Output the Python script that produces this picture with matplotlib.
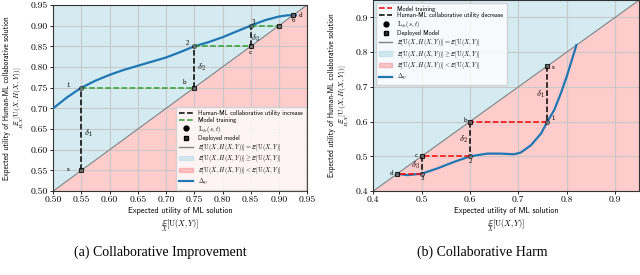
import matplotlib
matplotlib.use("Agg")
import matplotlib.pyplot as plt
from matplotlib.lines import Line2D
from matplotlib.patches import Patch

plt.rcParams['font.family'] = 'cmss10'
plt.rcParams['mathtext.fontset'] = 'cm'
plt.rcParams['axes.unicode_minus'] = False
plt.rcParams['axes.formatter.use_mathtext'] = True

# (a) collaborative improvement
xa = [0.50, 0.525, 0.55, 0.575, 0.60, 0.625, 0.65, 0.675, 0.70, 0.725, 0.75,
      0.775, 0.80, 0.825, 0.85, 0.875, 0.90, 0.915, 0.93]
ya = [0.70, 0.727, 0.75, 0.767, 0.781, 0.793, 0.803, 0.813, 0.823, 0.836, 0.85,
      0.86, 0.872, 0.886, 0.90, 0.913, 0.922, 0.925, 0.925]
deploy_a = [0.55, 0.75, 0.85, 0.90, 0.925]
collab_a = [0.75, 0.85, 0.90]
deploy_a_names = ['s', 'b', 'c', '', 'd']
collab_a_names = ['1', '2', '3']

# (b) collaborative harm
xb = [0.45, 0.47, 0.50, 0.532, 0.567, 0.60, 0.636, 0.663, 0.691, 0.705, 0.726,
      0.747, 0.76, 0.774, 0.788, 0.80, 0.82]
yb = [0.45, 0.446, 0.45, 0.465, 0.484, 0.50, 0.508, 0.508, 0.506, 0.511, 0.532,
      0.566, 0.60, 0.633, 0.682, 0.73, 0.82]
deploy_b = [0.76, 0.60, 0.50, 0.45]
collab_b = [0.60, 0.50, 0.45]
deploy_b_names = ['s', 'b', 'c', 'd']
collab_b_names = ['1', '2', '3']

blue_fill = (0.68, 0.85, 0.90, 0.5)
red_fill = (1.0, 0.0, 0.0, 0.2)
eq_lbl = r'$\mathbb{E}[\mathrm{U}(X,H(X,Y))] = \mathbb{E}[\mathrm{U}(X,Y)]$'
ge_lbl = r'$\mathbb{E}[\mathrm{U}(X,H(X,Y))] \geq \mathbb{E}[\mathrm{U}(X,Y)]$'
lt_lbl = r'$\mathbb{E}[\mathrm{U}(X,H(X,Y))] < \mathbb{E}[\mathrm{U}(X,Y)]$'
L_lbl = r'$\mathrm{L}_{\delta_U}(s,t)$'


def base(ax, lo, hi, ticks, fmt):
    ax.fill_between([lo, hi], [lo, hi], [hi, hi], color=blue_fill, lw=0)
    ax.fill_between([lo, hi], [lo, lo], [lo, hi], color=red_fill, lw=0)
    ax.plot([lo, hi], [lo, hi], color='gray', lw=0.8)
    ax.set_xlim(lo, hi)
    ax.set_ylim(lo, hi)
    ax.set_xticks(ticks)
    ax.set_yticks(ticks)
    ax.set_xticklabels([fmt % t for t in ticks], family='cmr10', fontsize=7)
    ax.set_yticklabels([fmt % t for t in ticks], family='cmr10', fontsize=7)
    ax.grid(True, color='#c8c8c8', lw=0.8)
    ax.tick_params(length=2.5, width=0.6, pad=1)
    for s in ax.spines.values():
        s.set_color('#333333')
        s.set_linewidth(0.8)
    ax.set_xlabel('Expected utility of ML solution\n' +
                  r'$\underset{X}{\mathbb{E}}[\mathrm{U}(X,Y)]$', fontsize=5.8, labelpad=2)
    ax.set_ylabel('Expected utility of Human-ML collaborative solution\n' +
                  r'$\underset{H,X}{\mathbb{E}}[\mathrm{U}(X,H(X,Y))]$', fontsize=5.3, labelpad=3)


def steps(ax, deploy, collab, train_col, dnames, cnames, doff, coff, dlt):
    ax.plot(deploy, deploy, 's', color='black', mfc='#666666', ms=3.5, mew=0.8, alpha=0.8, zorder=5)
    ax.plot(deploy[:len(collab)], collab, 'o', color='black', mfc='#777777', ms=3, mew=0.6, alpha=0.6, zorder=5)
    for i in range(len(collab)):
        ax.plot([deploy[i], deploy[i]], [deploy[i], collab[i]], '--', color='black', lw=1.1, zorder=4)
        ax.plot([deploy[i], collab[i]], [collab[i], collab[i]], '--', color=train_col, lw=1.1, zorder=4)
        ax.text(deploy[i] + dlt[i][0], (deploy[i] + collab[i]) / 2 + dlt[i][1],
                r'$\delta_%d$' % (i + 1), fontsize=6.5, ha='center', va='center')
        ax.text(deploy[i] + coff[i][0], collab[i] + coff[i][1], cnames[i],
                fontsize=5, ha='center', va='center')
    for i in range(len(deploy)):
        ax.text(deploy[i] + doff[i][0], deploy[i] + doff[i][1], dnames[i],
                fontsize=5, ha='center', va='center')


fig = plt.figure(figsize=(6.4, 2.75), dpi=100)
ax1 = fig.add_axes([0.083, 0.305, 0.397, 0.677])
ax2 = fig.add_axes([0.583, 0.305, 0.416, 0.695])

base(ax1, 0.50, 0.95, [0.50, 0.55, 0.60, 0.65, 0.70, 0.75, 0.80, 0.85, 0.90, 0.95], '%.2f')
ax1.plot(xa, ya, color='#1f77b4', lw=1.6, zorder=3)
steps(ax1, deploy_a, collab_a, '#2ca02c', deploy_a_names, collab_a_names,
      [(-0.023, 0.003), (-0.018, 0.014), (0.0, -0.013), (0, 0), (0.013, 0.001)],
      [(-0.023, 0.006), (-0.012, 0.009), (0.004, 0.009)],
      [(0.012, -0.01), (0.012, 0.0), (0.008, -0.005)])
ax1.text(0.925, 0.914, '6', fontsize=5, ha='center', va='center')
h1 = [Line2D([], [], ls='--', color='black', lw=1.1),
      Line2D([], [], ls='--', color='#2ca02c', lw=1.1),
      Line2D([], [], ls='', marker='o', color='black', ms=3.5),
      Line2D([], [], ls='', marker='s', color='black', mfc='#333333', ms=3.5),
      Line2D([], [], color='gray', lw=1),
      Patch(color=blue_fill), Patch(color=red_fill),
      Line2D([], [], color='#1f77b4', lw=1.6)]
l1 = ['Human-ML collaborative utility increase', 'Model training', L_lbl,
      'Deployed model', eq_lbl, ge_lbl, lt_lbl, r'$\Delta_U$']
ax1.legend(h1, l1, loc='lower right', fontsize=4.5, framealpha=0.8, borderaxespad=0.2,
           handlelength=2.2, labelspacing=0.1, borderpad=0.5, fancybox=True, edgecolor='#cccccc')

base(ax2, 0.40, 0.95, [0.4, 0.5, 0.6, 0.7, 0.8, 0.9], '%.1f')
ax2.plot(xb, yb, color='#1f77b4', lw=1.6, zorder=3)
steps(ax2, deploy_b, collab_b, 'red', deploy_b_names, collab_b_names,
      [(0.012, -0.003), (-0.01, 0.004), (-0.01, 0.004), (-0.012, 0.002)],
      [(0.012, 0.01), (0.001, -0.012), (0.001, -0.012)],
      [(-0.014, 0.0), (-0.014, 0.0), (-0.012, 0.0)])
h2 = [Line2D([], [], ls='--', color='red', lw=1.1),
      Line2D([], [], ls='--', color='black', lw=1.1),
      Line2D([], [], ls='', marker='o', color='black', ms=3.5),
      Line2D([], [], ls='', marker='s', color='black', mfc='#333333', ms=3.5),
      Line2D([], [], color='gray', lw=1),
      Patch(color=blue_fill), Patch(color=red_fill),
      Line2D([], [], color='#1f77b4', lw=1.6)]
l2 = ['Model training', 'Human-ML collaborative utility decrease', L_lbl,
      'Deployed Model', eq_lbl, ge_lbl, lt_lbl, r'$\Delta_U$']
ax2.legend(h2, l2, loc='upper left', fontsize=4.5, framealpha=0.8, borderaxespad=0.4,
           handlelength=2.2, labelspacing=0.1, borderpad=0.5, fancybox=True, edgecolor='#cccccc')

fig.text(0.25, 0.084, '(a) Collaborative Improvement', family='Liberation Serif',
         fontsize=10, ha='center', va='center')
fig.text(0.753, 0.084, '(b) Collaborative Harm', family='Liberation Serif',
         fontsize=10, ha='center', va='center')

fig.savefig('out.png', dpi=100)
